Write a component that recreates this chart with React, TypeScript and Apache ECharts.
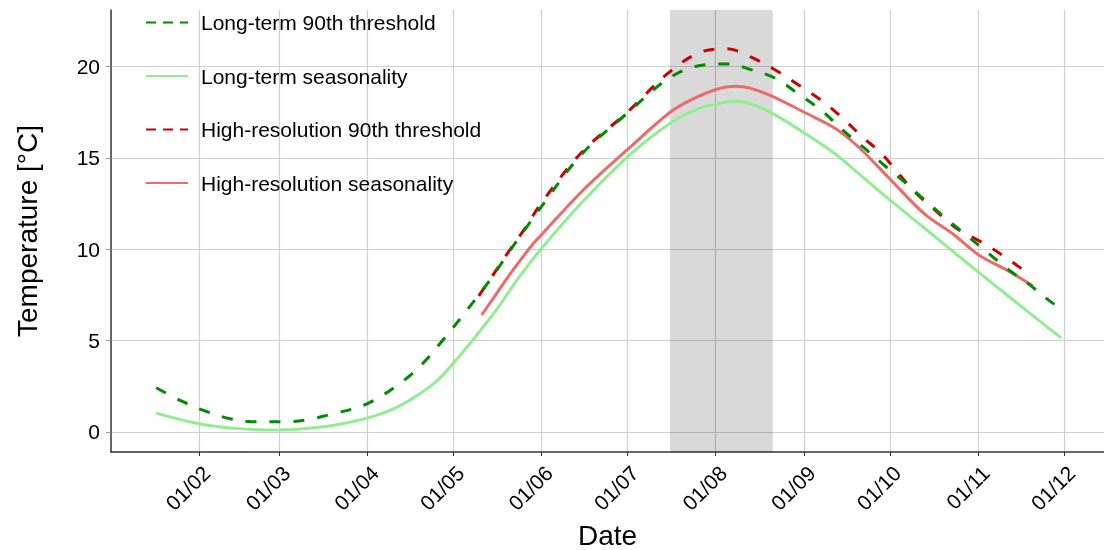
import React, { useEffect, useRef } from "react";
import * as echarts from "echarts";

const ltThreshDates = ["2021-01-17","2021-01-26","2021-02-03","2021-02-12","2021-02-21","2021-03-02","2021-03-11","2021-03-18","2021-04-01","2021-04-14","2021-04-21","2021-04-27","2021-05-03","2021-05-09","2021-05-15","2021-05-21","2021-05-26","2021-06-01","2021-06-15","2021-07-01","2021-07-15","2021-07-26","2021-08-05","2021-08-13","2021-08-22","2021-08-30","2021-09-07","2021-09-15","2021-09-22","2021-09-29","2021-10-06","2021-10-13","2021-10-20","2021-10-27","2021-11-04","2021-11-11","2021-11-19","2021-11-27","2021-11-30"];
const ltThreshValues = [2.42,1.68,1.15,0.72,0.55,0.55,0.66,0.92,1.55,2.85,3.85,4.95,6.1,7.3,8.55,9.95,11.05,12.35,15.2,17.45,19.3,20.05,20.15,19.85,19.35,18.5,17.6,16.45,15.55,14.6,13.7,12.72,11.78,10.87,9.85,8.95,8.05,7.05,6.85];

const ltSeasDates = ["2021-01-17","2021-02-01","2021-02-15","2021-03-01","2021-03-15","2021-03-25","2021-04-03","2021-04-10","2021-04-17","2021-04-25","2021-05-01","2021-05-08","2021-05-16","2021-05-24","2021-06-01","2021-06-15","2021-07-01","2021-07-16","2021-07-26","2021-08-01","2021-08-07","2021-08-13","2021-08-21","2021-09-01","2021-09-12","2021-09-20","2021-10-01","2021-10-12","2021-11-01","2021-11-15","2021-11-30"];
const ltSeasValues = [1.03,0.45,0.18,0.1,0.25,0.5,0.85,1.25,1.85,2.75,3.75,5.05,6.65,8.45,10.05,12.55,15.05,16.9,17.7,17.93,18.1,17.97,17.43,16.37,15.2,14.15,12.7,11.3,8.75,7.0,5.15];

const hrThreshDates = ["2021-05-10","2021-05-15","2021-05-21","2021-05-26","2021-06-01","2021-06-15","2021-07-01","2021-07-15","2021-07-26","2021-08-05","2021-08-13","2021-08-22","2021-08-30","2021-09-07","2021-09-14","2021-09-21","2021-09-28","2021-10-04","2021-10-10","2021-10-17","2021-10-24","2021-11-02","2021-11-10","2021-11-17","2021-11-20"];
const hrThreshValues = [7.45,8.6,10.0,11.1,12.55,15.3,17.5,19.6,20.75,20.98,20.55,19.8,19.0,18.15,17.25,16.2,15.25,14.15,13.1,12.12,11.18,10.4,9.62,8.85,8.65];

const hrSeasDates = ["2021-05-11","2021-05-15","2021-05-21","2021-05-29","2021-06-01","2021-06-15","2021-07-01","2021-07-16","2021-07-23","2021-08-01","2021-08-08","2021-08-13","2021-08-21","2021-09-01","2021-09-12","2021-09-20","2021-10-01","2021-10-13","2021-10-23","2021-11-01","2021-11-11","2021-11-20"];
const hrSeasValues = [6.4,7.3,8.65,10.3,10.8,13.15,15.45,17.5,18.15,18.75,18.93,18.82,18.36,17.5,16.6,15.6,13.85,11.95,10.85,9.7,8.85,8.0];

const bandStart = "2021-07-16";
const bandEnd = "2021-08-21";

const seriesNames = ["Long-term 90th threshold","Long-term seasonality","High-resolution 90th threshold","High-resolution seasonality"];

const pair = (d: string[], v: number[]) => d.map((x, i) => [x, v[i]]);

export default function App() {
  const ref = useRef<HTMLDivElement>(null);
  useEffect(() => {
    const chart = echarts.init(ref.current!, null, { renderer: "svg" });
    const font = "Liberation Sans, Arial, sans-serif";
    const lineSeries = (name: string, data: any[], color: string, dashed: boolean, extra: any = {}) => ({
      name,
      type: "line",
      data,
      smooth: 0.35,
      symbol: "none",
      lineStyle: { color, width: 3, type: dashed ? [11, 13] : "solid", cap: "butt" },
      itemStyle: { color },
      ...extra,
    });
    chart.setOption({
      animation: false,
      textStyle: { fontFamily: font },
      grid: { left: 111, right: 0, top: 10, bottom: 98, containLabel: false, outerBoundsMode: "none" },
      legend: {
        left: 140,
        top: 7,
        orient: "vertical",
        itemWidth: 42,
        itemHeight: 20,
        itemGap: 32.5,
        itemStyle: { opacity: 0 },
        textStyle: { fontSize: 21, color: "#000", fontFamily: font, padding: [0, 0, 0, 8] },
        data: [
          { name: seriesNames[0], lineStyle: { type: [10, 7] } },
          { name: seriesNames[1] },
          { name: seriesNames[2], lineStyle: { type: [10, 7] } },
          { name: seriesNames[3] },
        ],
      },
      xAxis: {
        type: "time",
        min: "2021-01-01 04:00",
        max: "2021-12-15",
        minInterval: 28 * 86400000,
        maxInterval: 31 * 86400000,
        name: "Date",
        nameLocation: "middle",
        nameGap: 69,
        nameTextStyle: { fontSize: 28, color: "#000", fontFamily: font },
        axisLine: { show: true, onZero: false, lineStyle: { color: "#333", width: 1.5 } },
        axisTick: { show: true, length: 4, lineStyle: { color: "#333", width: 1 } },
        axisLabel: { formatter: "{dd}/{MM}", rotate: 45, fontSize: 21, color: "#000", margin: 10, verticalAlign: "top", fontFamily: font, showMinLabel: false, showMaxLabel: false },
        splitLine: { show: true, showMinLine: false, showMaxLine: false, lineStyle: { color: "#d0d0d0", width: 1.2 } },
      },
      yAxis: {
        type: "value",
        min: -1.1,
        max: 23.1,
        name: "Temperature [°C]",
        nameLocation: "middle",
        nameGap: 70,
        nameTextStyle: { fontSize: 28, color: "#000", fontFamily: font },
        axisLine: { show: true, lineStyle: { color: "#333", width: 1.5 } },
        axisTick: { show: true, length: 5, lineStyle: { color: "#999", width: 1 } },
        axisLabel: { fontSize: 21, color: "#000", margin: 11, fontFamily: font, showMinLabel: false, showMaxLabel: false },
        splitLine: { show: true, showMinLine: false, showMaxLine: false, lineStyle: { color: "#d0d0d0", width: 1.2 } },
      },
      series: [
        lineSeries(seriesNames[0], pair(ltThreshDates, ltThreshValues), "#008B00", true, {
          z: 4,
          markArea: {
            silent: true,
            itemStyle: { color: "rgba(0,0,0,0.15)" },
            data: [[{ xAxis: bandStart }, { xAxis: bandEnd }]],
          },
        }),
        lineSeries(seriesNames[1], pair(ltSeasDates, ltSeasValues), "#90EE90", false, { z: 2 }),
        lineSeries(seriesNames[2], pair(hrThreshDates, hrThreshValues), "#CD0000", true, { z: 3 }),
        lineSeries(seriesNames[3], pair(hrSeasDates, hrSeasValues), "#EE6A6A", false, { z: 2 }),
      ],
    });
    return () => chart.dispose();
  }, []);
  return <div ref={ref} style={{ position: "fixed", left: 0, top: 0, width: 1104, height: 550 }} />;
}
